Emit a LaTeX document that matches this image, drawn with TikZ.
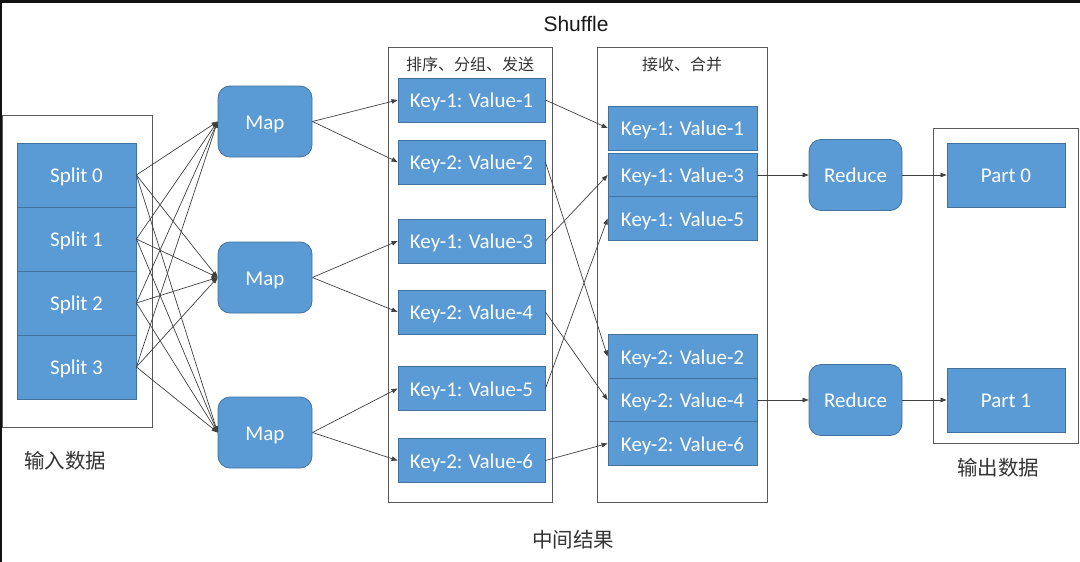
\documentclass[tikz,border=0pt]{standalone}
\usepackage{fontspec}
\setmainfont{Carlito}
\newfontfamily\cjk{Noto Sans CJK SC}
\newfontfamily\arialf{Liberation Sans}
\usetikzlibrary{arrows.meta}
\definecolor{boxblue}{HTML}{5B9BD5}
\definecolor{boxedge}{HTML}{41719C}
\definecolor{frameg}{HTML}{595959}
\definecolor{lineg}{HTML}{404040}
\definecolor{labelg}{HTML}{333333}
\begin{document}
\begin{tikzpicture}[x=1pt,y=-1pt,
 bluebox/.style={fill=boxblue, draw=boxedge, line width=0.8pt, text=white, inner sep=0pt, text height=15.5pt, text depth=0pt, font=\fontsize{21}{21}\selectfont},
 splitbox/.style={bluebox, minimum width=119pt, minimum height=64pt},
 mapbox/.style={bluebox, rounded corners=12pt, minimum width=94pt, minimum height=71pt},
 kvbox/.style={bluebox, minimum width=147pt, minimum height=44pt},
 kvtwo/.style={bluebox, minimum width=149pt, minimum height=43.5pt},
 partbox/.style={bluebox, minimum width=118pt, minimum height=64pt},
 groupbox/.style={draw=frameg, line width=1pt, inner sep=0pt},
 conn/.style={draw=lineg, line width=0.7pt, -{Triangle[length=6pt,width=4.5pt]}},
 cjklabel/.style={font=\cjk\fontsize{20.5}{21}\selectfont, text=labelg},
 cjkhead/.style={font=\cjk\fontsize{16}{16}\selectfont, text=labelg},
]
\useasboundingbox (0,0) rectangle (1080,562);
% frame edges
\fill[black!93] (0,0) rectangle (1080,2.5);
\fill[black!93] (0,0) rectangle (2,562);

% group boxes
\node[groupbox, minimum width=150pt, minimum height=312pt] (inbox) at (77,271) {};
\node[groupbox, minimum width=164pt, minimum height=455pt] (colA) at (470,274.5) {};
\node[groupbox, minimum width=170pt, minimum height=455pt] (colB) at (682,274.5) {};
\node[groupbox, minimum width=145pt, minimum height=315pt] (outbox) at (1005.5,285.5) {};

% titles
\node[font=\arialf\fontsize{21}{21}\selectfont, text=black!90] (shuffle) at (576,24) {Shuffle};
\node[cjkhead] (headA) at (470,64) {排序、分组、发送};
\node[cjkhead] (headB) at (682,64) {接收、合并};
\node[cjklabel] (inlabel) at (65,461) {输入数据};
\node[cjklabel] (outlabel) at (998,468) {输出数据};
\node[cjklabel] (midlabel) at (573,540) {中间结果};

% splits
\node[splitbox] (s0) at (76.5,175) {Split 0};
\node[splitbox] (s1) at (76.5,239) {Split 1};
\node[splitbox] (s2) at (76.5,303) {Split 2};
\node[splitbox] (s3) at (76.5,367) {Split 3};

% maps
\node[mapbox] (m1) at (265,121.5) {Map};
\node[mapbox] (m2) at (265,277.5) {Map};
\node[mapbox] (m3) at (265,432.5) {Map};

% column A
\node[kvbox] (a1) at (471.5,100) {Key-1: Value-1};
\node[kvbox] (a2) at (471.5,162) {Key-2: Value-2};
\node[kvbox] (a3) at (471.5,241) {Key-1: Value-3};
\node[kvbox] (a4) at (471.5,312) {Key-2: Value-4};
\node[kvbox] (a5) at (471.5,388.5) {Key-1: Value-5};
\node[kvbox] (a6) at (471.5,460.5) {Key-2: Value-6};

% column B
\node[kvtwo, minimum height=44pt] (b1) at (682.5,128) {Key-1: Value-1};
\node[kvtwo] (b3) at (682.5,175) {Key-1: Value-3};
\node[kvtwo] (b5) at (682.5,218.5) {Key-1: Value-5};
\node[kvtwo] (b2) at (682.5,356.5) {Key-2: Value-2};
\node[kvtwo] (b4) at (682.5,400) {Key-2: Value-4};
\node[kvtwo] (b6) at (682.5,443.5) {Key-2: Value-6};

% reduce
\node[mapbox, minimum width=93pt] (r1) at (855.5,175) {Reduce};
\node[mapbox, minimum width=93pt] (r2) at (855.5,400) {Reduce};

% parts
\node[partbox] (p0) at (1006,175) {Part 0};
\node[partbox] (p1) at (1006,400) {Part 1};

% split -> map
\foreach \s in {s0,s1,s2,s3}{
  \foreach \m in {m1,m2,m3}{
    \draw[conn] (\s.east) -- (\m.west);
  }
}
% map -> column A
\draw[conn] (m1.east) -- (a1.west);
\draw[conn] (m1.east) -- (a2.west);
\draw[conn] (m2.east) -- (a3.west);
\draw[conn] (m2.east) -- (a4.west);
\draw[conn] (m3.east) -- (a5.west);
\draw[conn] (m3.east) -- (a6.west);
% column A -> column B
\draw[conn] (a1.east) -- (b1.west);
\draw[conn] (a2.east) -- (b2.west);
\draw[conn] (a3.east) -- (b3.west);
\draw[conn] (a4.east) -- (b4.west);
\draw[conn] (a5.east) -- (b5.west);
\draw[conn] (a6.east) -- (b6.west);
% column B -> reduce -> part
\draw[conn] (b3.east) -- (r1.west);
\draw[conn] (b4.east) -- (r2.west);
\draw[conn] (r1.east) -- (p0.west);
\draw[conn] (r2.east) -- (p1.west);
\end{tikzpicture}
\end{document}
